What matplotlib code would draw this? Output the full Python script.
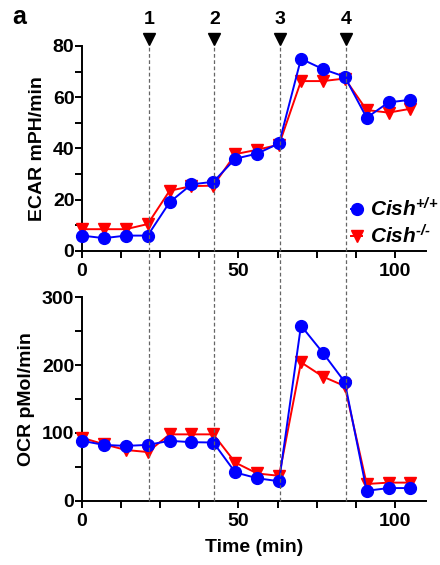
import matplotlib
matplotlib.use("Agg")
import matplotlib.pyplot as plt
from matplotlib.ticker import MultipleLocator
from matplotlib.lines import Line2D
from matplotlib.transforms import blended_transform_factory

plt.rcParams["font.family"] = ["Liberation Sans", "DejaVu Sans"]
plt.rcParams["font.weight"] = "bold"
plt.rcParams["mathtext.fontset"] = "custom"
plt.rcParams["mathtext.rm"] = "Liberation Sans:bold"
plt.rcParams["mathtext.bf"] = "Liberation Sans:bold"
plt.rcParams["mathtext.it"] = "Liberation Sans:italic:bold"
plt.rcParams["mathtext.bfit"] = "Liberation Sans:italic:bold"

# measurement times (min)
time = [0, 7, 14, 21, 28, 35, 42, 49, 56, 63, 70, 77, 84, 91, 98, 105]

ecar_wt = [6, 5, 6, 6, 19, 26, 27, 36, 38, 42, 75, 71, 68, 52, 58, 59]
ecar_ko = [8.5, 8.5, 8.5, 10.5, 23.5, 25.3, 25.5, 37.8, 39.5, 41.5, 66.3, 66.3, 67.3, 55, 54, 55.5]

ocr_wt = [88.5, 82.5, 81, 82.5, 88.5, 86.5, 86, 42, 33.5, 29, 258, 218, 175, 15, 19, 19]
ocr_ko = [93, 83.5, 75, 72, 98, 98, 98, 56.5, 40.5, 37, 204, 183, 169, 25, 27, 27]

# injection times
injections = [21.5, 42.3, 63.3, 84.3]
injection_labels = ["1", "2", "3", "4"]

label_wt = r"$\mathbfit{Cish}^{\mathbfit{{+}/{+}}}$"
label_ko = "$\\mathbfit{Cish}^{\\mathbfit{\u2010/\u2010}}$"

fig = plt.figure(figsize=(4.4, 5.65), dpi=100)
ax1 = fig.add_axes([0.1864, 0.5558, 0.782, 0.3628])
ax2 = fig.add_axes([0.1864, 0.1133, 0.782, 0.361])


def style_axis(ax, ymax, ymajor, yminor):
    ax.set_xlim(0, 110)
    ax.set_ylim(0, ymax)
    ax.xaxis.set_major_locator(MultipleLocator(50))
    ax.xaxis.set_minor_locator(MultipleLocator(12.5))
    ax.yaxis.set_major_locator(MultipleLocator(ymajor))
    ax.yaxis.set_minor_locator(MultipleLocator(yminor))
    for side in ["top", "right"]:
        ax.spines[side].set_visible(False)
    for side in ["left", "bottom"]:
        ax.spines[side].set_linewidth(1.4)
    ax.tick_params(which="both", direction="out", width=1.4, labelsize=14)
    ax.tick_params(axis="y", pad=0.5)
    ax.tick_params(axis="x", pad=4)
    ax.tick_params(which="major", length=5)
    ax.tick_params(which="minor", length=5)
    for lab in ax.get_xticklabels() + ax.get_yticklabels():
        lab.set_fontweight("bold")


def draw_series(ax, wt, ko):
    ax.plot(time, ko, color="red", lw=1.4, marker="v", ms=9, label=label_ko, clip_on=False, zorder=3)
    ax.plot(time, wt, color="blue", lw=1.4, marker="o", ms=8.5, label=label_wt, clip_on=False, zorder=4)


draw_series(ax1, ecar_wt, ecar_ko)
style_axis(ax1, 80, 20, 10)
ax1.set_ylabel("ECAR mPH/min", fontsize=14, fontweight="bold", labelpad=5)

draw_series(ax2, ocr_wt, ocr_ko)
style_axis(ax2, 300, 100, 50)
ax2.set_ylabel("OCR pMol/min", fontsize=14, fontweight="bold", labelpad=5)
ax2.set_xlabel("Time (min)", fontsize=14, fontweight="bold", labelpad=6)

h, l = ax1.get_legend_handles_labels()
ax1.legend([h[1], h[0]], [l[1], l[0]], loc="lower right", bbox_to_anchor=(1.09, -0.075),
           frameon=False, handlelength=0.5, handletextpad=0.4, fontsize=15,
           labelspacing=0.2)

# injection markers spanning both panels
trans = blended_transform_factory(ax1.transData, fig.transFigure)
y_top = 1 - 45 / 565
y_bot = 1 - 501 / 565
for t, lab in zip(injections, injection_labels):
    fig.add_artist(Line2D([t, t], [y_bot, y_top], transform=trans, color="#666666",
                          lw=0.9, ls=(0, (3, 2)), zorder=1))
    fig.add_artist(Line2D([t], [1 - 39 / 565], transform=trans, marker="v", ms=8,
                          color="black", lw=0))
    fig.text(t, 1 - 19 / 565, lab, transform=trans, ha="center", va="center",
             fontsize=14, fontweight="bold")

fig.text(12 / 440, 1 - 17 / 565, "a", ha="left", va="center", fontsize=18, fontweight="bold")

fig.savefig("out.png", dpi=100)
